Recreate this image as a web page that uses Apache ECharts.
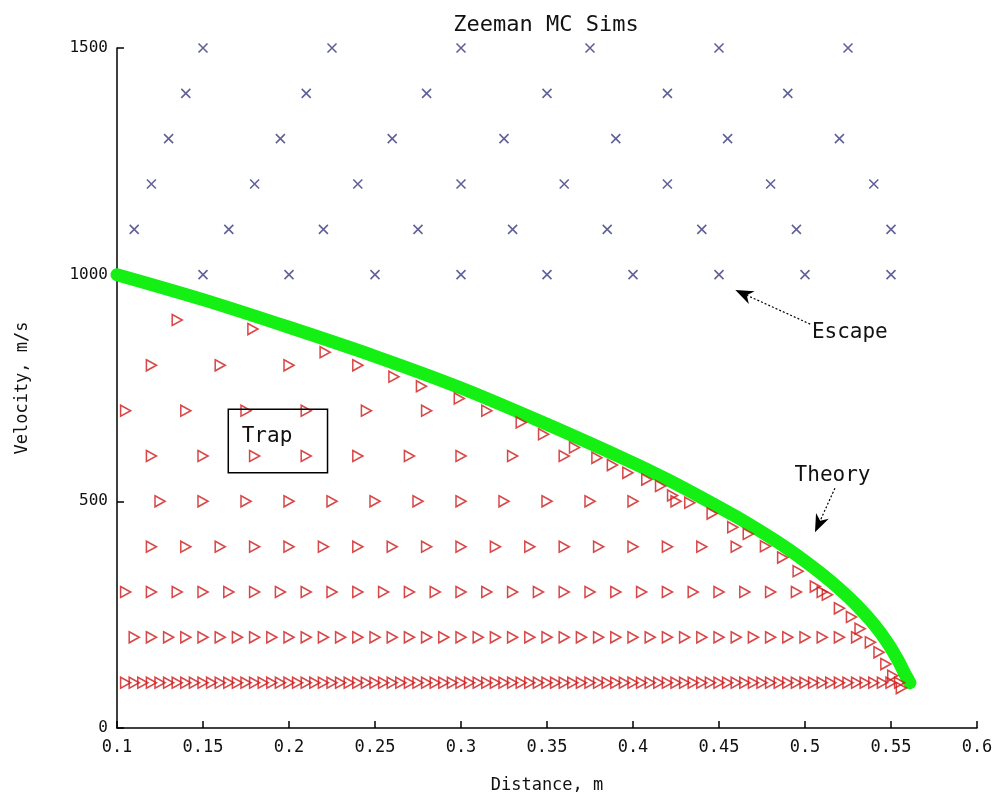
<!DOCTYPE html>
<html><head><meta charset="utf-8">
<script src="https://cdn.jsdelivr.net/npm/echarts/dist/echarts.min.js"></script>
<style>html,body{margin:0;padding:0;background:#fff}#c{width:1002px;height:805px}</style>
</head><body><div id="c"></div>
<script>
// ---------- data ----------
const titleText = 'Zeeman MC Sims';
const xName = 'Distance, m';
const yName = 'Velocity, m/s';

// Theory curve (thick green band)
const theoryX = [0.100,0.150,0.200,0.250,0.300,0.350,0.400,0.420,0.440,0.460,0.480,0.490,0.500,0.510,0.520,0.530,0.540,0.548,0.554,0.558,0.561];
const theoryV = [1000,945,884,820,750,670,585,548,508,466,420,395,368,339,307,271,229,188,150,120,100];

// Escaping particles (blue x), one row per initial velocity
const escRowV = [1500,1400,1300,1200,1100,1000];
const escRowX = [
  [0.15,0.225,0.3,0.375,0.45,0.525],
  [0.14,0.21,0.28,0.35,0.42,0.49],
  [0.13,0.195,0.26,0.325,0.39,0.455,0.52],
  [0.12,0.18,0.24,0.30,0.36,0.42,0.48,0.54],
  [0.11,0.165,0.22,0.275,0.33,0.385,0.44,0.495,0.55],
  [0.15,0.2,0.25,0.3,0.35,0.4,0.45,0.5,0.55]
];

// Trapped particles (red triangles), grid rows
const trapRowV = [100,200,300,400,500,600,700,800,900];
const trapRowX = [
  [0.105,0.11,0.115,0.12,0.125,0.13,0.135,0.14,0.145,0.15,0.155,0.16,0.165,0.17,0.175,0.18,0.185,0.19,0.195,0.2,0.205,0.21,0.215,0.22,0.225,0.23,0.235,0.24,0.245,0.25,0.255,0.26,0.265,0.27,0.275,0.28,0.285,0.29,0.295,0.3,0.305,0.31,0.315,0.32,0.325,0.33,0.335,0.34,0.345,0.35,0.355,0.36,0.365,0.37,0.375,0.38,0.385,0.39,0.395,0.4,0.405,0.41,0.415,0.42,0.425,0.43,0.435,0.44,0.445,0.45,0.455,0.46,0.465,0.47,0.475,0.48,0.485,0.49,0.495,0.5,0.505,0.51,0.515,0.52,0.525,0.53,0.535,0.54,0.545,0.55,0.555],
  [0.11,0.12,0.13,0.14,0.15,0.16,0.17,0.18,0.19,0.2,0.21,0.22,0.23,0.24,0.25,0.26,0.27,0.28,0.29,0.3,0.31,0.32,0.33,0.34,0.35,0.36,0.37,0.38,0.39,0.4,0.41,0.42,0.43,0.44,0.45,0.46,0.47,0.48,0.49,0.5,0.51,0.52,0.53],
  [0.105,0.12,0.135,0.15,0.165,0.18,0.195,0.21,0.225,0.24,0.255,0.27,0.285,0.3,0.315,0.33,0.345,0.36,0.375,0.39,0.405,0.42,0.435,0.45,0.465,0.48,0.495,0.51],
  [0.12,0.14,0.16,0.18,0.2,0.22,0.24,0.26,0.28,0.3,0.32,0.34,0.36,0.38,0.4,0.42,0.44,0.46],
  [0.125,0.15,0.175,0.2,0.225,0.25,0.275,0.3,0.325,0.35,0.375,0.4,0.425],
  [0.12,0.15,0.18,0.21,0.24,0.27,0.3,0.33,0.36],
  [0.105,0.14,0.175,0.21,0.245,0.28,0.315],
  [0.12,0.16,0.2,0.24],
  [0.135]
];

// Trapped particles hugging the theory boundary
const edgeX = [0.179,0.221,0.261,0.277,0.299,0.335,0.348,0.366,0.379,0.388,0.397,0.408,0.416,0.423,0.433,0.446,0.458,0.467,0.477,0.487,0.496,0.506,0.513,0.520,0.527,0.532,0.538,0.543,0.547,0.551,0.556];
const edgeV = [880,829,775,754,727,674,648,619,596,580,563,548,534,513,497,473,443,428,401,376,346,312,294,264,245,219,189,167,141,115,88];

// Annotations (data coordinates)
const annEscape = {text:'Escape', tip:[0.4595,966], tail:[0.503,891], label:[0.504,873]};
const annTheory = {text:'Theory', tip:[0.5058,432], tail:[0.5174,529], label:[0.516,556]};
const annTrap = {text:'Trap', box:[[0.1647,703],[0.2224,563]], label:[0.1725,642]};

// ---------- build ----------
const escData = [];
escRowV.forEach((v,i)=>escRowX[i].forEach(x=>escData.push([x,v])));
const trapData = [];
trapRowV.forEach((v,i)=>trapRowX[i].forEach(x=>trapData.push([x,v])));
edgeX.forEach((x,i)=>trapData.push([x,edgeV[i]]));
const theoryData = theoryX.map((x,i)=>[x,theoryV[i]]);

const FONT = 'DejaVu Sans Mono';
const chart = echarts.init(document.getElementById('c'), null, {renderer:'canvas'});
chart.setOption({
  animation:false,
  backgroundColor:'#fff',
  title:{text:titleText,left:541,textAlign:'center',top:9,textStyle:{fontFamily:FONT,fontSize:22,fontWeight:'normal',color:'#111'}},
  grid:{left:117,right:25,top:48,bottom:77,containLabel:false},
  xAxis:{type:'value',min:0.1,max:0.6,interval:0.05,
    name:xName,nameLocation:'middle',nameGap:49,
    nameTextStyle:{fontFamily:FONT,fontSize:17,color:'#111'},
    axisLine:{show:true,onZero:false,lineStyle:{color:'#000',width:1.5}},
    axisTick:{show:true,inside:true,length:7,lineStyle:{color:'#000',width:1.5}},
    axisLabel:{fontFamily:FONT,fontSize:17,color:'#111',margin:11,formatter:v=>String(+v.toFixed(2))},
    splitLine:{show:false}},
  yAxis:{type:'value',min:0,max:1500,interval:500,
    name:yName,nameLocation:'middle',nameGap:86,nameRotate:90,
    nameTextStyle:{fontFamily:FONT,fontSize:17,color:'#111'},
    axisLine:{show:true,onZero:false,lineStyle:{color:'#000',width:1.5}},
    axisTick:{show:true,inside:true,length:7,lineStyle:{color:'#000',width:1.5}},
    axisLabel:{fontFamily:FONT,fontSize:16,color:'#111',margin:9,formatter:v=>String(v)},
    splitLine:{show:false}},
  series:[
    {name:'Theory',type:'line',data:theoryData,showSymbol:false,smooth:0.3,
      lineStyle:{color:'#14f014',width:13,cap:'round',join:'round'},z:2,silent:true},
    {name:'Escape',type:'scatter',data:escData,symbol:'path://M0,0L10,10M10,0L0,10',symbolSize:9,
      itemStyle:{color:'rgba(0,0,0,0)',borderColor:'#3a3a80',borderWidth:1.6},z:3,silent:true},
    {name:'Trap',type:'scatter',data:trapData,symbol:'path://M0,0L10,5L0,10Z',symbolSize:[10,11],
      itemStyle:{color:'rgba(0,0,0,0)',borderColor:'#d01a1a',borderWidth:1.6},z:4,silent:true}
  ]
});

function P(p){return chart.convertToPixel({gridIndex:0},p);}
function arrow(a){
  const t=P(a.tip), s=P(a.tail);
  const dx=t[0]-s[0], dy=t[1]-s[1], L=Math.hypot(dx,dy), ux=dx/L, uy=dy/L;
  const hl=18, hw=7;
  const bx=t[0]-ux*hl, by=t[1]-uy*hl, nx=-uy, ny=ux;
  const mx=t[0]-ux*hl*0.7, my=t[1]-uy*hl*0.7;
  return [
    {type:'line',shape:{x1:s[0],y1:s[1],x2:mx,y2:my},style:{stroke:'#000',lineWidth:1.2,lineDash:[2,2]},z:10},
    {type:'polygon',shape:{points:[[t[0],t[1]],[bx+nx*hw,by+ny*hw],[mx,my],[bx-nx*hw,by-ny*hw]]},style:{fill:'#000'},z:10}
  ];
}
const els=[];
els.push(...arrow(annEscape),...arrow(annTheory));
let p=P(annEscape.label);
els.push({type:'text',x:p[0],y:p[1],style:{text:annEscape.text,fontFamily:FONT,fontSize:21,fill:'#111',textAlign:'left',textVerticalAlign:'middle'},z:11});
p=P(annTheory.label);
els.push({type:'text',x:p[0],y:p[1],style:{text:annTheory.text,fontFamily:FONT,fontSize:21,fill:'#111',textAlign:'center',textVerticalAlign:'middle'},z:11});
const b0=P(annTrap.box[0]), b1=P(annTrap.box[1]);
els.push({type:'rect',shape:{x:b0[0],y:b0[1],width:b1[0]-b0[0],height:b1[1]-b0[1]},style:{fill:'none',stroke:'#000',lineWidth:1.5},z:11});
p=P(annTrap.label);
els.push({type:'text',x:p[0],y:p[1],style:{text:annTrap.text,fontFamily:FONT,fontSize:21,fill:'#111',textAlign:'left',textVerticalAlign:'middle'},z:11});
chart.setOption({graphic:{elements:els}});
</script>
</body></html>
